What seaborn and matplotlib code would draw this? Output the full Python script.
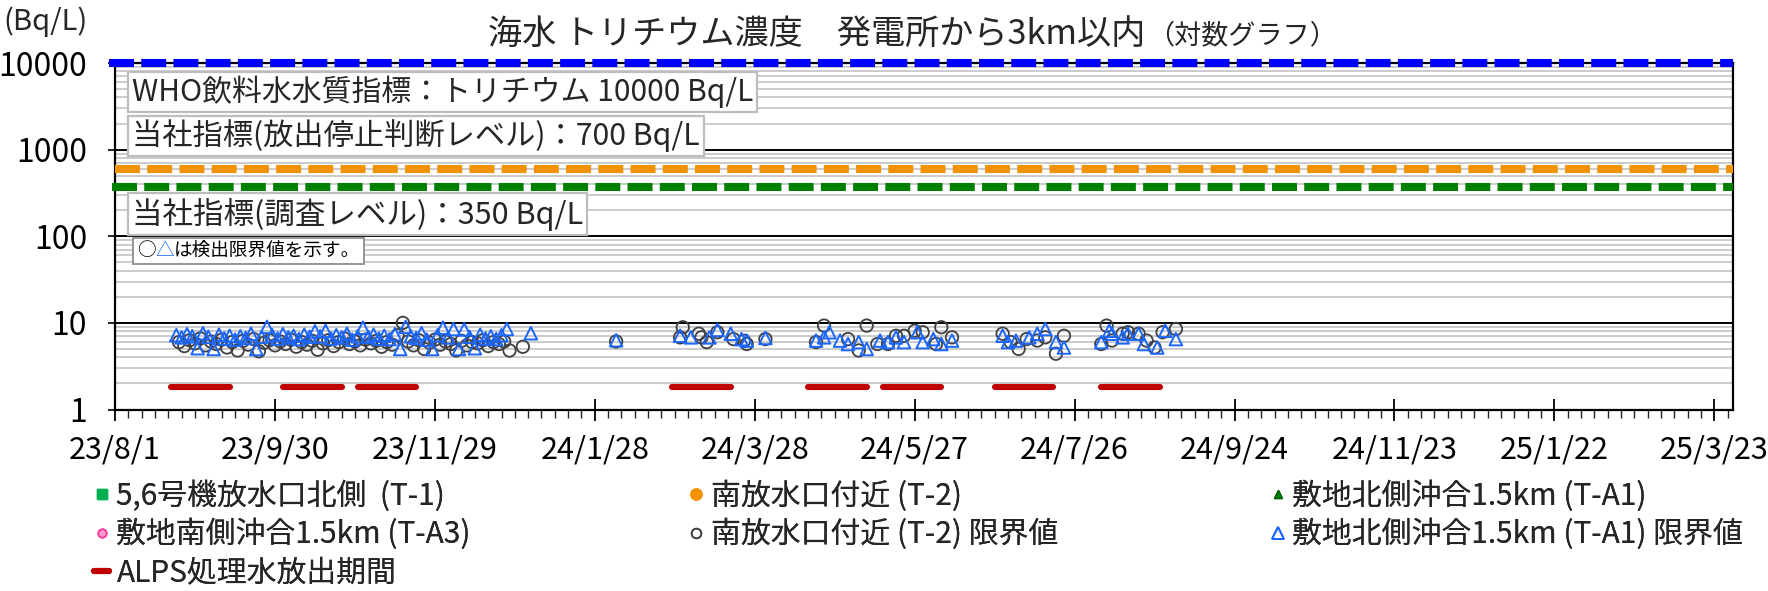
import numpy as np
import pandas as pd
import matplotlib
matplotlib.use("Agg")
import matplotlib.pyplot as plt
import matplotlib.dates as mdates
from matplotlib.ticker import LogLocator, FixedLocator, NullFormatter
from matplotlib.lines import Line2D
from matplotlib.offsetbox import TextArea, HPacker, AnchoredOffsetbox
import seaborn as sns

# ---------------- data ----------------
t2_limit_dates = [
    "2023-08-25", "2023-08-27", "2023-08-29", "2023-08-31",
    "2023-09-02", "2023-09-04", "2023-09-06", "2023-09-08", "2023-09-10", "2023-09-12", "2023-09-14",
    "2023-09-16", "2023-09-18", "2023-09-20", "2023-09-22", "2023-09-24", "2023-09-26", "2023-09-28", "2023-09-30",
    "2023-10-02", "2023-10-04", "2023-10-06", "2023-10-08", "2023-10-10", "2023-10-12", "2023-10-14",
    "2023-10-16", "2023-10-18", "2023-10-20", "2023-10-22", "2023-10-24", "2023-10-26", "2023-10-28", "2023-10-30",
    "2023-11-01", "2023-11-03", "2023-11-05", "2023-11-07", "2023-11-09", "2023-11-11", "2023-11-13",
    "2023-11-15", "2023-11-17", "2023-11-19", "2023-11-21", "2023-11-23", "2023-11-25", "2023-11-27", "2023-11-29",
    "2023-12-01", "2023-12-03", "2023-12-05", "2023-12-07", "2023-12-09", "2023-12-11", "2023-12-13",
    "2023-12-15", "2023-12-17", "2023-12-19", "2023-12-21", "2023-12-23", "2023-12-25", "2023-12-27",
    "2024-01-01", "2024-02-05",
    "2024-02-29", "2024-03-01", "2024-03-07", "2024-03-08", "2024-03-10", "2024-03-14", "2024-03-20",
    "2024-03-24", "2024-03-25", "2024-04-01",
    "2024-04-20", "2024-04-23", "2024-05-02", "2024-05-06", "2024-05-09", "2024-05-13", "2024-05-17",
    "2024-05-20", "2024-05-23", "2024-05-27", "2024-05-30", "2024-06-04", "2024-06-06", "2024-06-10",
    "2024-06-29", "2024-07-02", "2024-07-05", "2024-07-08", "2024-07-12", "2024-07-15", "2024-07-19", "2024-07-22",
    "2024-08-05", "2024-08-07", "2024-08-09", "2024-08-13", "2024-08-15", "2024-08-19", "2024-08-22",
    "2024-08-25", "2024-08-28", "2024-09-02",
]
t2_limit_values = [
    6.0, 5.4, 6.3, 5.8,
    6.6, 5.5, 6.1, 5.7, 6.4, 5.2, 6.0, 4.8, 6.2, 5.6, 6.5, 4.7, 5.9, 6.3, 5.5,
    6.1, 5.7, 6.4, 5.3, 6.0, 5.6, 6.2, 4.9, 5.8, 6.3, 5.4, 6.0, 6.6, 5.7, 6.1,
    5.5, 6.4, 5.8, 6.2, 5.3, 6.0, 5.6, 7.2, 10.0, 6.1, 5.5, 6.3, 5.0, 5.9, 6.4,
    5.6, 6.1, 5.7, 4.8, 6.2, 5.5, 6.0, 5.8, 6.3, 5.4, 6.0, 5.7, 6.1, 4.8,
    5.3, 6.1,
    6.8, 8.9, 7.5, 6.8, 6.0, 7.8, 6.5, 6.2, 5.7, 6.5,
    6.0, 9.3, 6.5, 4.8, 9.3, 5.7, 5.7, 7.1, 7.1, 8.1, 7.8, 5.7, 8.9, 6.8,
    7.5, 6.0, 5.0, 6.5, 6.25, 6.8, 4.4, 7.1,
    5.7, 9.3, 6.25, 7.5, 7.8, 7.5, 6.25, 5.2, 7.8, 8.5,
]

ta1_limit_dates = [
    "2023-08-24", "2023-08-26", "2023-08-28", "2023-08-30",
    "2023-09-01", "2023-09-03", "2023-09-05", "2023-09-07", "2023-09-09", "2023-09-11", "2023-09-13",
    "2023-09-15", "2023-09-17", "2023-09-19", "2023-09-21", "2023-09-23", "2023-09-25", "2023-09-27", "2023-09-29",
    "2023-10-01", "2023-10-03", "2023-10-05", "2023-10-07", "2023-10-09", "2023-10-11", "2023-10-13", "2023-10-15",
    "2023-10-17", "2023-10-19", "2023-10-21", "2023-10-23", "2023-10-25", "2023-10-27", "2023-10-29", "2023-10-31",
    "2023-11-02", "2023-11-04", "2023-11-06", "2023-11-08", "2023-11-10", "2023-11-12", "2023-11-14",
    "2023-11-16", "2023-11-18", "2023-11-20", "2023-11-22", "2023-11-24", "2023-11-26", "2023-11-28", "2023-11-30",
    "2023-12-02", "2023-12-04", "2023-12-06", "2023-12-08", "2023-12-10", "2023-12-12", "2023-12-14",
    "2023-12-16", "2023-12-18", "2023-12-20", "2023-12-22", "2023-12-24", "2023-12-26",
    "2024-01-04", "2024-02-05",
    "2024-02-29", "2024-03-04", "2024-03-11", "2024-03-14", "2024-03-19", "2024-03-23", "2024-03-25", "2024-04-01",
    "2024-04-20", "2024-04-23", "2024-04-25", "2024-04-29", "2024-05-02", "2024-05-06", "2024-05-09", "2024-05-14",
    "2024-05-17", "2024-05-20", "2024-05-23", "2024-05-28", "2024-05-30", "2024-06-03", "2024-06-06", "2024-06-10",
    "2024-06-29", "2024-07-01", "2024-07-04", "2024-07-09", "2024-07-12", "2024-07-15", "2024-07-19", "2024-07-22",
    "2024-08-05", "2024-08-08", "2024-08-09", "2024-08-13", "2024-08-15", "2024-08-19", "2024-08-21",
    "2024-08-26", "2024-08-29", "2024-09-02",
]
ta1_limit_values = [
    7.2, 6.8, 7.4, 7.0,
    5.1, 7.6, 6.9, 5.0, 7.3, 6.6, 7.1, 6.4, 7.0, 6.7, 7.5, 5.0, 6.9, 9.0, 7.2,
    6.6, 7.4, 6.8, 7.1, 6.5, 7.3, 6.9, 8.0, 7.0, 8.1, 6.6, 7.2, 6.8, 7.5, 6.4, 7.0,
    8.8, 6.9, 7.3, 6.6, 7.1, 6.5, 7.4, 5.0, 9.0, 7.0, 6.7, 7.6, 6.4, 5.0, 7.2,
    8.8, 6.8, 8.5, 5.0, 8.4, 6.9, 5.1, 7.3, 6.6, 7.0, 6.5, 7.2, 8.5,
    7.6, 6.3,
    7.1, 6.8, 6.8, 8.3, 7.5, 6.5, 6.25, 6.7,
    6.25, 6.8, 7.8, 6.25, 5.7, 6.0, 5.0, 6.25, 6.0, 6.8, 6.0, 7.8, 6.0, 6.5, 5.7, 6.25,
    7.1, 6.0, 6.25, 6.8, 7.5, 8.5, 6.0, 5.2,
    6.0, 8.1, 7.5, 6.8, 7.5, 7.5, 5.7, 5.2, 8.1, 6.5,
]

alps_start = ["2023-08-22", "2023-10-03", "2023-10-31", "2024-02-26",
              "2024-04-17", "2024-05-15", "2024-06-26", "2024-08-05"]
alps_end = ["2023-09-13", "2023-10-25", "2023-11-22", "2024-03-19",
            "2024-05-09", "2024-06-06", "2024-07-18", "2024-08-27"]
alps_level = 1.8

who_level = 10000
stop_level = 600
survey_level = 370

y_ticks = [1, 10, 100, 1000, 10000]
y_tick_labels = ["1", "10", "100", "1000", "10000"]
x_tick_dates = ["2023-08-01", "2023-09-30", "2023-11-29", "2024-01-28", "2024-03-28", "2024-05-27",
                "2024-07-26", "2024-09-24", "2024-11-23", "2025-01-22", "2025-03-23"]
x_tick_labels = ["23/8/1", "23/9/30", "23/11/29", "24/1/28", "24/3/28", "24/5/27",
                 "24/7/26", "24/9/24", "24/11/23", "25/1/22", "25/3/23"]
x_start, x_end = "2023-08-01", "2025-03-30"

title_main = "海水 トリチウム濃度　発電所から3km以内"
title_sub = "（対数グラフ）"
box_who = "WHO飲料水水質指標：トリチウム 10000 Bq/L"
box_stop = "当社指標(放出停止判断レベル)：700 Bq/L"
box_survey = "当社指標(調査レベル)：350 Bq/L"

# ---------------- style ----------------
sns.set_theme(style="white")
plt.rcParams["font.family"] = ["Noto Sans CJK JP", "DejaVu Sans"]
plt.rcParams["axes.unicode_minus"] = False

W, H = 1768, 591
fig = plt.figure(figsize=(W / 100, H / 100), dpi=100)
fig.patch.set_facecolor("white")


def fx(px):
    return px / W


def fy(py):
    return 1 - py / H


ax = fig.add_axes([fx(115), fy(409.5), fx(1733) - fx(115), fy(63) - fy(409.5)])
ax.set_facecolor("white")

x0 = pd.Timestamp(x_start)
x1 = pd.Timestamp(x_end)

df_c = pd.DataFrame({"date": pd.to_datetime(t2_limit_dates), "value": t2_limit_values})
df_t = pd.DataFrame({"date": pd.to_datetime(ta1_limit_dates), "value": ta1_limit_values})

ax.set_yscale("log")
ax.set_ylim(1, 10000)
ax.set_xlim(x0, x1)

# grid
ax.yaxis.set_minor_locator(LogLocator(base=10, subs=np.arange(2, 10)))
ax.yaxis.set_minor_formatter(NullFormatter())
ax.grid(which="minor", axis="y", color="#c2c2c2", lw=1.2, zorder=0)
ax.grid(which="major", axis="y", color="black", lw=1.4, zorder=0.5)
ax.grid(which="both", axis="x", visible=False)
ax.set_axisbelow(True)

# ALPS periods
for s, e in zip(alps_start, alps_end):
    ax.plot([pd.Timestamp(s), pd.Timestamp(e)], [alps_level, alps_level], color="#c00000",
            lw=4.4, solid_capstyle="round", zorder=3)

# scatter points
sns.scatterplot(data=df_c, x="date", y="value", marker="o", s=80, facecolor="none",
                edgecolor="#404040", linewidth=1.3, ax=ax, zorder=4, legend=False)
sns.scatterplot(data=df_t, x="date", y="value", marker="^", s=82, facecolor="none",
                edgecolor="#1a66ff", linewidth=1.4, ax=ax, zorder=5, legend=False)

# reference lines
ax.plot([x0 - pd.Timedelta(days=2.3), x1], [who_level, who_level], color="#0000ff", lw=5.8,
        dashes=(3.1, 0.9), dash_capstyle="butt", clip_on=False, zorder=6)
ax.plot([x0, x1], [stop_level, stop_level], color="#f39200", lw=5.8,
        dashes=(3.1, 0.9), dash_capstyle="butt", clip_on=False, zorder=6)
ax.plot([x0 - pd.Timedelta(days=1.2), x1], [survey_level, survey_level], color="#008000", lw=5.8,
        dashes=(3.1, 0.9), dash_capstyle="butt", clip_on=False, zorder=6)

# axes ticks
ax.set_yticks(y_ticks)
ax.set_yticklabels(y_tick_labels)
ax.xaxis.set_major_locator(FixedLocator(mdates.date2num(pd.to_datetime(x_tick_dates))))
ax.set_xticklabels(x_tick_labels)
ax.xaxis.set_minor_locator(FixedLocator(mdates.date2num(pd.date_range(x_start, x_end, freq="5D"))))
ax.tick_params(axis="y", which="major", direction="out", length=5, width=1.2, labelsize=23,
               colors="black", pad=15, left=True)
ax.tick_params(axis="y", which="minor", length=0)
ax.tick_params(axis="x", which="major", direction="inout", length=16, width=1.3, labelsize=22,
               colors="black", pad=10, bottom=True)
ax.tick_params(axis="x", which="minor", direction="out", length=6, width=1.0, bottom=True)
ax.set_xlabel("")
ax.set_ylabel("")
for sp in ax.spines.values():
    sp.set_visible(True)
    sp.set_color("black")
    sp.set_linewidth(1.6)
    sp.set_zorder(5.5)

# text boxes
box_kw = dict(boxstyle="square,pad=0.13", fc="white", ec="#bdbdbd", lw=1.6)
fig.text(fx(132), fy(92), box_who, fontsize=21.5, ha="left", va="center", bbox=box_kw, zorder=7)
fig.text(fx(132), fy(136), box_stop, fontsize=21.8, ha="left", va="center", bbox=box_kw, zorder=7)
fig.text(fx(132), fy(214), box_survey, fontsize=22, ha="left", va="center", bbox=box_kw, zorder=7)

note = HPacker(children=[TextArea("○", textprops=dict(fontsize=13.4, color="black")),
                         TextArea("△", textprops=dict(fontsize=13.4, color="#1a66ff")),
                         TextArea("は検出限界値を示す。", textprops=dict(fontsize=13.4, color="black"))],
               align="baseline", pad=0, sep=0)
anchored = AnchoredOffsetbox(loc="center left", child=note, pad=0.25, borderpad=0, frameon=True,
                             bbox_to_anchor=(fx(133), fy(251)), bbox_transform=fig.transFigure)
anchored.patch.set_edgecolor("#8c8c8c")
anchored.patch.set_linewidth(1.3)
anchored.patch.set_boxstyle("square,pad=0")
anchored.set_zorder(7)
fig.add_artist(anchored)

# titles
fig.text(fx(1145), fy(34), title_main, fontsize=24.6, ha="right", va="center")
fig.text(fx(1147), fy(36), title_sub, fontsize=19.5, ha="left", va="center")
fig.text(fx(46), fy(22), "(Bq/L)", fontsize=21, ha="center", va="center")

# legend (one entry each, placed in three columns)
leg_fs = 21.5
hl = 0.5
hl_px = hl * leg_fs * 100 / 72
entries = [
    (Line2D([], [], ls="none", marker="s", markersize=7, color="#00b050", mec="#00b050"),
     "5,6号機放水口北側  (T-1)", 101.5, 496),
    (Line2D([], [], ls="none", marker="o", markersize=8, color="#f39200", mec="#f39200"),
     "南放水口付近 (T-2)", 696, 496),
    (Line2D([], [], ls="none", marker="^", markersize=5.5, color="#008000", mec="#006000"),
     "敷地北側沖合1.5km (T-A1)", 1277.5, 496),
    (Line2D([], [], ls="none", marker="o", markersize=6, color="#ff99cc", mec="#ff3399", mew=1.2),
     "敷地南側沖合1.5km (T-A3)", 101.5, 534.5),
    (Line2D([], [], ls="none", marker="o", markersize=7, mfc="none", mec="#404040", mew=1.2),
     "南放水口付近 (T-2) 限界値", 696, 534.5),
    (Line2D([], [], ls="none", marker="^", markersize=8, mfc="none", mec="#1a66ff", mew=1.3),
     "敷地北側沖合1.5km (T-A1) 限界値", 1277.5, 534.5),
    (Line2D([], [], color="#c00000", lw=4.4, solid_capstyle="round"),
     "ALPS処理水放出期間", 101.5, 573),
]
for h, lab, mx, my in entries:
    lg = fig.legend(handles=[h], labels=[lab], loc="center left",
                    bbox_to_anchor=(fx(mx - hl_px / 2), fy(my)), bbox_transform=fig.transFigure,
                    frameon=False, fontsize=leg_fs, handlelength=hl, handletextpad=0.25,
                    borderpad=0, borderaxespad=0, handleheight=0.7)
    fig.add_artist(lg)

fig.savefig("out.png", dpi=100, facecolor="white")
